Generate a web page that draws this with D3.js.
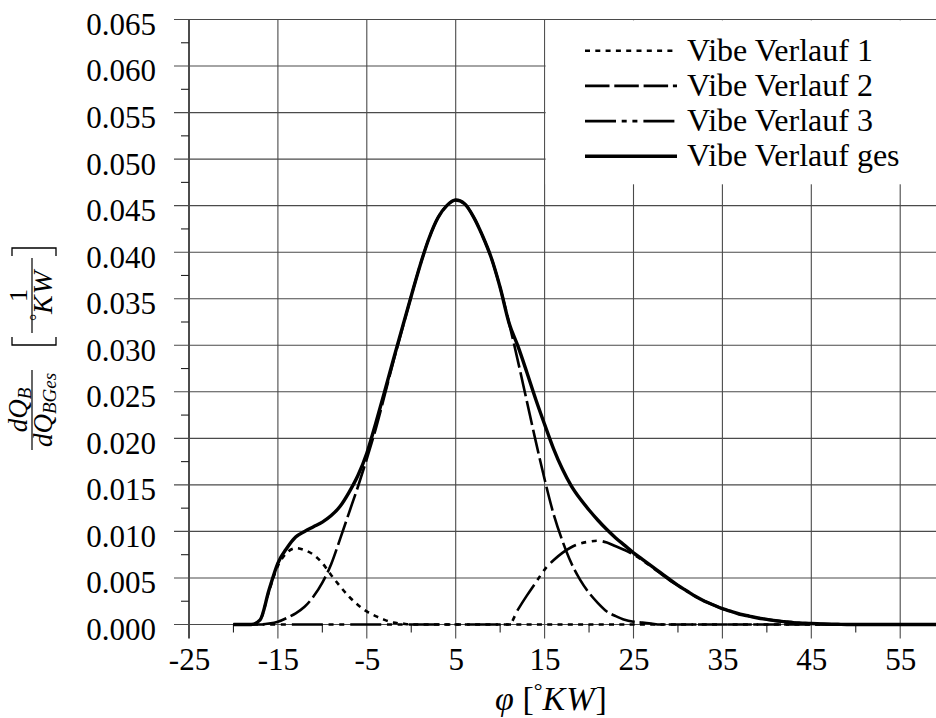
<!DOCTYPE html>
<html>
<head>
<meta charset="utf-8">
<script src="https://cdn.jsdelivr.net/npm/d3@7"></script>
<style>
  body { margin: 0; background: #fff; }
  svg { display: block; font-family: "Liberation Serif", "Times New Roman", serif; }
</style>
</head>
<body>
<svg id="chart" width="936" height="718"></svg>
<script>
// crank angle [°KW]
const phi = [-20, -19, -18, -17, -16, -15, -14, -13, -12, -11, -10, -9, -8, -7, -6, -5, -4, -3, -2, -1,
  0, 1, 2, 3, 4, 5, 6, 7, 8, 9, 10, 11, 12, 13, 14, 15, 16, 17, 18, 19,
  20, 21, 22, 23, 24, 25, 26, 27, 28, 29, 30, 31, 32, 33, 34, 35, 36, 37, 38, 39,
  40, 41, 42, 43, 44, 45, 46, 47, 48, 49, 50, 51, 52, 53, 54, 55, 56, 57, 58, 59, 60];

// Vibe Verlauf 1 (dotted)
const vibe1 = [0, 0, 0, 0.0005, 0.0036, 0.0063, 0.0077, 0.0082, 0.0080, 0.0075, 0.0066, 0.0053, 0.0041, 0.0030, 0.0021, 0.0014, 0.0009, 0.0005, 0.0002, 0.0001,
  0, 0, 0, 0, 0, 0, 0, 0, 0, 0, 0, 0, 0, 0, 0, 0, 0, 0, 0, 0,
  0, 0, 0, 0, 0, 0, 0, 0, 0, 0, 0, 0, 0, 0, 0, 0, 0, 0, 0, 0,
  0, 0, 0, 0, 0, 0, 0, 0, 0, 0, 0, 0, 0, 0, 0, 0, 0, 0, 0, 0, 0];

// Vibe Verlauf 2 (dashed)
const vibe2 = [0, 0, 0, 0, 0.0001, 0.0003, 0.0007, 0.0012, 0.0019, 0.0030, 0.0045, 0.0065, 0.0092, 0.0120, 0.0148, 0.0178, 0.0210, 0.0246, 0.0283, 0.0318,
  0.0353, 0.0386, 0.0415, 0.0437, 0.0450, 0.0456, 0.0452, 0.0438, 0.0418, 0.0394, 0.0362, 0.0324, 0.0283, 0.0240, 0.0197, 0.0156, 0.0119, 0.0090, 0.0066, 0.0048,
  0.0034, 0.0023, 0.0014, 0.0009, 0.0005, 0.0003, 0.0002, 0.0001, 0, 0, 0, 0, 0, 0, 0, 0, 0, 0, 0, 0,
  0, 0, 0, 0, 0, 0, 0, 0, 0, 0, 0, 0, 0, 0, 0, 0, 0, 0, 0, 0, 0];

// Vibe Verlauf 3 (dash-dot-dot)
const vibe3 = [0, 0, 0, 0, 0, 0, 0, 0, 0, 0, 0, 0, 0, 0, 0, 0, 0, 0, 0, 0,
  0, 0, 0, 0, 0, 0, 0, 0, 0, 0, 0, 0, 0.0016, 0.0031, 0.0045, 0.0059, 0.0069, 0.0077, 0.0083, 0.0087,
  0.0089, 0.0090, 0.0088, 0.0084, 0.0080, 0.0075, 0.0069, 0.0062, 0.0055, 0.0048, 0.0042, 0.0036, 0.0030, 0.0025, 0.0021, 0.0017, 0.0014, 0.0011, 0.0009, 0.0007,
  0.00055, 0.0004, 0.0003, 0.0002, 0.00015, 0.0001, 0.00007, 0.00004, 0.00002, 0, 0, 0, 0, 0, 0, 0, 0, 0, 0, 0, 0];

// Vibe Verlauf ges (solid)
const vibeGes = [0, 0, 0, 0.0005, 0.0037, 0.0066, 0.0082, 0.0094, 0.0100, 0.0105, 0.0110, 0.0117, 0.0127, 0.0142, 0.0160, 0.0184, 0.0216, 0.0250, 0.0285, 0.0319,
  0.0353, 0.0386, 0.0415, 0.0437, 0.0450, 0.0456, 0.0452, 0.0438, 0.0418, 0.0394, 0.0362, 0.0324, 0.0299, 0.0271, 0.0242, 0.0215, 0.0189, 0.0167, 0.0149, 0.0135,
  0.0123, 0.0112, 0.0102, 0.0093, 0.0085, 0.0077, 0.0070, 0.0063, 0.0056, 0.0049, 0.0042, 0.0036, 0.0030, 0.0025, 0.0021, 0.0017, 0.0014, 0.0011, 0.0009, 0.0007,
  0.00055, 0.0004, 0.0003, 0.0002, 0.00015, 0.0001, 0.00007, 0.00004, 0.00002, 0, 0, 0, 0, 0, 0, 0, 0, 0, 0, 0, 0];

const xMajor = [-25, -15, -5, 5, 15, 25, 35, 45, 55];
const xMinor = [-20, -10, 0, 10, 20, 30, 40, 50, 60];
const yMajor = [0, 0.005, 0.010, 0.015, 0.020, 0.025, 0.030, 0.035, 0.040, 0.045, 0.050, 0.055, 0.060, 0.065];
const yMinor = [0.0025, 0.0075, 0.0125, 0.0175, 0.0225, 0.0275, 0.0325, 0.0375, 0.0425, 0.0475, 0.0525, 0.0575, 0.0625];

const seriesNames = ['Vibe Verlauf 1', 'Vibe Verlauf 2', 'Vibe Verlauf 3', 'Vibe Verlauf ges'];

const W = 936, H = 718;
const plotLeft = 189, plotTop = 19.5, plotBottom = 624.5;

const svg = d3.select('#chart');

const x = d3.scaleLinear().domain([-25, 60]).range([plotLeft, plotLeft + 85 * 8.89]);
const y = d3.scaleLinear().domain([0, 0.065]).range([plotBottom, plotTop]);

const gridColor = '#4a4a4a';

// grid
const grid = svg.append('g');
grid.selectAll('.vgrid').data(xMajor).join('line')
    .attr('x1', d => x(d)).attr('x2', d => x(d))
    .attr('y1', plotTop).attr('y2', plotBottom + 14)
    .attr('stroke', d => d === -25 ? '#111' : gridColor)
    .attr('stroke-width', d => d === -25 ? 1.5 : 1.1);
grid.selectAll('.hgrid').data(yMajor).join('line')
    .attr('x1', plotLeft - 15).attr('x2', W)
    .attr('y1', d => y(d)).attr('y2', d => y(d))
    .attr('stroke', gridColor).attr('stroke-width', 1.1);
grid.selectAll('.xminor').data(xMinor).join('line')
    .attr('x1', d => x(d)).attr('x2', d => x(d))
    .attr('y1', plotBottom).attr('y2', plotBottom + 8)
    .attr('stroke', '#222').attr('stroke-width', 1.1);
grid.selectAll('.yminor').data(yMinor).join('line')
    .attr('x1', plotLeft - 8).attr('x2', plotLeft)
    .attr('y1', d => y(d)).attr('y2', d => y(d))
    .attr('stroke', '#222').attr('stroke-width', 1.1);

// tick labels
const yAxis = d3.axisLeft(y).tickValues(yMajor).tickSize(0).tickPadding(33)
    .tickFormat(d3.format('.3f'));
const yAxisG = svg.append('g').attr('transform', `translate(${plotLeft},0)`).call(yAxis)
    .attr('font-family', null).attr('font-size', 31);
yAxisG.select('.domain').remove();
yAxisG.selectAll('text').attr('fill', '#000').attr('dy', '0.48em');

const xAxis = d3.axisBottom(x).tickValues(xMajor).tickSize(0).tickPadding(23)
    .tickFormat(d => String(d));
const xAxisG = svg.append('g').attr('transform', `translate(0,${plotBottom})`).call(xAxis)
    .attr('font-family', null).attr('font-size', 31);
xAxisG.select('.domain').remove();
xAxisG.selectAll('text').attr('fill', '#000');

// curves
const styles = [
    { data: vibe1, dash: '5,5.3', width: 2.6 },
    { data: vibe2, dash: '24.5,4.8', width: 2.6 },
    { data: vibe3, dash: '31,5.7,5,5.7,5,6', width: 2.6 },
    { data: vibeGes, dash: null, width: 3.4 }
];

const line = d3.line()
    .x((d, i) => x(phi[i]))
    .y(d => y(d))
    .curve(d3.curveMonotoneX);

svg.append('clipPath').attr('id', 'plotclip')
    .append('rect').attr('x', plotLeft).attr('y', 0).attr('width', W - plotLeft).attr('height', H);

const curves = svg.append('g').attr('clip-path', 'url(#plotclip)');
curves.selectAll('path').data(styles).join('path')
    .attr('d', d => line(d.data))
    .attr('fill', 'none')
    .attr('stroke', '#000')
    .attr('stroke-width', d => d.width)
    .attr('stroke-dasharray', d => d.dash)
    .attr('stroke-linejoin', 'round');

// legend
const legend = svg.append('g');
legend.append('rect')
    .attr('x', x(15) + 1).attr('y', plotTop + 0.8)
    .attr('width', W - x(15)).attr('height', 164)
    .attr('fill', '#fff');
const rows = legend.selectAll('.row').data(styles).join('g')
    .attr('transform', (d, i) => `translate(0,${50.7 + i * 35.2})`);
rows.append('line')
    .attr('x1', 585).attr('x2', 677).attr('y1', 0).attr('y2', 0)
    .attr('stroke', '#000')
    .attr('stroke-width', d => d.width)
    .attr('stroke-dasharray', d => d.dash);
rows.append('text')
    .attr('x', 687).attr('y', 10)
    .attr('font-size', 32)
    .text((d, i) => seriesNames[i]);

// x axis title: φ [°KW]
const xt = svg.append('text')
    .attr('x', 551).attr('y', 710)
    .attr('text-anchor', 'middle')
    .attr('font-size', 34);
xt.append('tspan').attr('font-style', 'italic').text('φ');
xt.append('tspan').text(' [');
xt.append('tspan').attr('font-size', 22).attr('dy', -12).text('°');
xt.append('tspan').attr('font-style', 'italic').attr('dy', 12).attr('letter-spacing', 1).text('KW');
xt.append('tspan').text(']');

// y axis title (rotated): dQ_B / dQ_BGes  [1/°KW]
const yt = svg.append('g').attr('transform', 'rotate(-90)');
// left fraction
yt.append('line').attr('x1', -450).attr('x2', -370).attr('y1', 32).attr('y2', 32)
    .attr('stroke', '#000').attr('stroke-width', 1.2);
const num = yt.append('text').attr('x', -410).attr('y', 27)
    .attr('text-anchor', 'middle').attr('font-size', 27).attr('font-style', 'italic');
num.append('tspan').text('dQ');
num.append('tspan').attr('font-size', 19).attr('dy', 4).text('B');
const den = yt.append('text').attr('x', -410).attr('y', 52)
    .attr('text-anchor', 'middle').attr('font-size', 27).attr('font-style', 'italic');
den.append('tspan').text('dQ');
den.append('tspan').attr('font-size', 19).attr('dy', 4).text('BGes');
// right fraction with brackets
yt.append('line').attr('x1', -333).attr('x2', -258).attr('y1', 32).attr('y2', 32)
    .attr('stroke', '#000').attr('stroke-width', 1.2);
yt.append('text').attr('x', -295.5).attr('y', 27)
    .attr('text-anchor', 'middle').attr('font-size', 26).text('1');
const kw = yt.append('text').attr('x', -295.5).attr('y', 52)
    .attr('text-anchor', 'middle').attr('font-size', 28);
kw.append('tspan').attr('font-size', 18).attr('dy', -9).text('°');
kw.append('tspan').attr('font-style', 'italic').attr('dy', 9).attr('letter-spacing', 1).text('KW');
yt.append('path')
    .attr('d', 'M -337,12 L -345,12 L -345,56 L -337,56')
    .attr('fill', 'none').attr('stroke', '#000').attr('stroke-width', 1.3);
yt.append('path')
    .attr('d', 'M -256,12 L -248,12 L -248,56 L -256,56')
    .attr('fill', 'none').attr('stroke', '#000').attr('stroke-width', 1.3);
</script>
</body>
</html>
